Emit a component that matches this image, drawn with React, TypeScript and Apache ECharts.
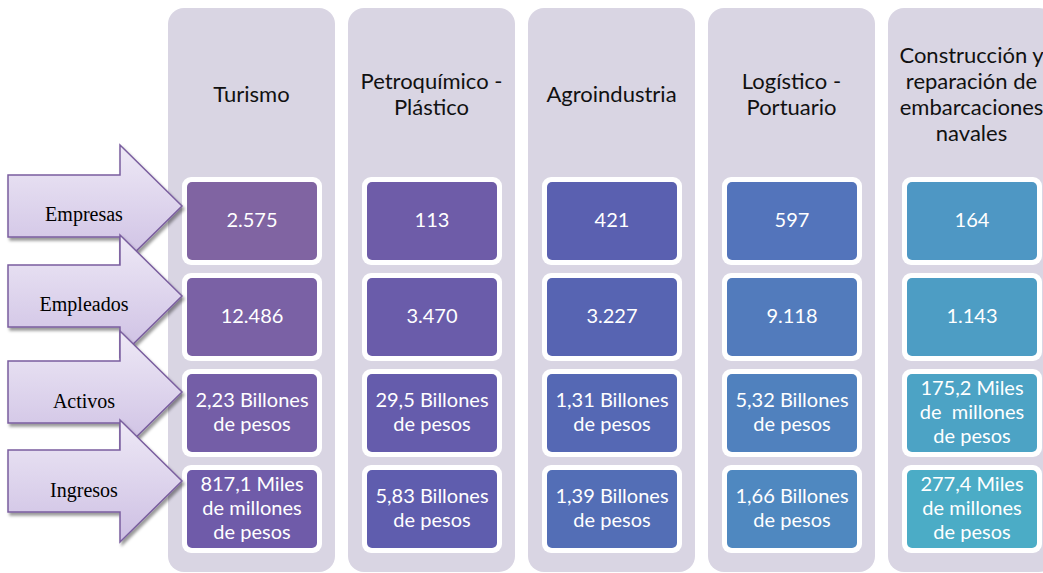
import React, { useEffect, useRef } from "react";
import * as echarts from "echarts";

const sectors = [
  "Turismo",
  "Petroquímico -\nPlástico",
  "Agroindustria",
  "Logístico -\nPortuario",
  "Construcción y\nreparación de\nembarcaciones\nnavales",
];
const metrics = ["Empresas", "Empleados", "Activos", "Ingresos"];
const empresas = ["2.575", "113", "421", "597", "164"];
const empleados = ["12.486", "3.470", "3.227", "9.118", "1.143"];
const activos = [
  "2,23 Billones\nde pesos",
  "29,5 Billones\nde pesos",
  "1,31 Billones\nde pesos",
  "5,32 Billones\nde pesos",
  "175,2 Miles\nde  millones\nde pesos",
];
const ingresos = [
  "817,1 Miles\nde millones\nde pesos",
  "5,83 Billones\nde pesos",
  "1,39 Billones\nde pesos",
  "1,66 Billones\nde pesos",
  "277,4 Miles\nde millones\nde pesos",
];

const cellColors = [
  ["#8064A2", "#6E5CA8", "#5A60B0", "#5374BB", "#4E97C4"],
  ["#7A61A5", "#6A5CAA", "#5764B2", "#527BBC", "#4D9DC4"],
  ["#745EA7", "#655CAC", "#5568B4", "#5081BE", "#4CA3C5"],
  ["#6F5BA9", "#5F5DAE", "#536EB6", "#4F88C0", "#4BACC6"],
];

export default function App() {
  const ref = useRef<HTMLDivElement>(null);
  useEffect(() => {
    if (!ref.current) return;
    const chart = echarts.init(ref.current, null, { renderer: "svg" });
    const rows = [empresas, empleados, activos, ingresos];
    const colX0 = 168, colStep = 180, colW = 167, colTop = 8, colBottom = 572;
    const rowY = [182, 278, 374, 470];
    const boxW = 130, boxH = 78, boxOff = 19;
    const elements: any[] = [];

    sectors.forEach((s, i) => {
      const x = colX0 + i * colStep;
      elements.push({
        type: "rect",
        shape: { x, y: colTop, width: colW, height: colBottom - colTop, r: 16 },
        style: { fill: "#D9D5E3" },
      });
      elements.push({
        type: "text",
        style: {
          text: s,
          x: x + colW / 2,
          y: 93,
          align: "center",
          verticalAlign: "middle",
          font: "22px Lato",
          lineHeight: 26,
          fill: "#111111",
        },
      });
      rows.forEach((r, j) => {
        const bx = x + boxOff;
        const by = rowY[j];
        elements.push({
          type: "rect",
          shape: { x: bx - 5, y: by - 5, width: boxW + 10, height: boxH + 10, r: 9 },
          style: { fill: "#FFFFFF" },
        });
        elements.push({
          type: "rect",
          shape: { x: bx, y: by, width: boxW, height: boxH, r: 5 },
          style: { fill: cellColors[j][i] },
        });
        elements.push({
          type: "text",
          style: {
            text: r[i],
            x: bx + boxW / 2,
            y: by + boxH / 2 - 2,
            align: "center",
            verticalAlign: "middle",
            font: "20px Lato",
            lineHeight: 24,
            fill: "#FFFFFF",
          },
        });
      });
    });

    const arrowC = [206, 296, 392, 481];
    const labelY = [214, 304, 401, 490];
    metrics.forEach((m, k) => {
      const c = arrowC[k];
      elements.push({
        type: "polygon",
        shape: {
          points: [
            [8, c - 31],
            [120, c - 31],
            [120, c - 61],
            [182, c],
            [120, c + 61],
            [120, c + 31],
            [8, c + 31],
          ],
        },
        style: {
          fill: {
            type: "linear",
            x: 0,
            y: 0,
            x2: 0,
            y2: 1,
            colorStops: [
              { offset: 0, color: "#EEE9F6" },
              { offset: 1, color: "#CDBFE3" },
            ],
          },
          stroke: "#7A5E9F",
          lineWidth: 1.5,
          lineJoin: "miter",
          shadowBlur: 3,
          shadowOffsetX: 2,
          shadowOffsetY: 3,
          shadowColor: "rgba(0,0,0,0.4)",
        },
      });
      elements.push({
        type: "text",
        style: {
          text: m,
          x: 84,
          y: labelY[k],
          align: "center",
          verticalAlign: "middle",
          font: "20px 'Liberation Serif'",
          fill: "#000000",
        },
      });
    });

    chart.setOption({ animation: false, graphic: { elements } });
    return () => chart.dispose();
  }, []);
  return (
    <div
      ref={ref}
      style={{ position: "fixed", left: 0, top: 0, width: 1043, height: 573, background: "#FFFFFF" }}
    />
  );
}
